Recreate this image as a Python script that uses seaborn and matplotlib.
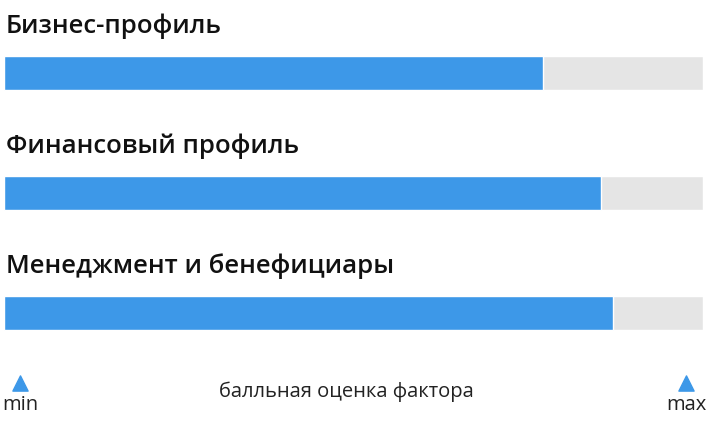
import pandas as pd
import seaborn as sns
import matplotlib.pyplot as plt

# Factor scores (share of max)
factors = ['Бизнес-профиль', 'Финансовый профиль', 'Менеджмент и бенефициары']
scores = [0.771, 0.854, 0.871]
max_score = [1.0, 1.0, 1.0]

df = pd.DataFrame({'factor': factors, 'score': scores, 'max': max_score})

sns.set_theme(style="white")
plt.rcParams['font.family'] = ['Open Sans', 'DejaVu Sans']

fig = plt.figure(figsize=(7.06, 4.24), dpi=100)
ax = fig.add_axes([4 / 706, 0, 699 / 706, 1])

# gray background track, then the blue score bar on top
sns.barplot(x='max', y='factor', data=df, color='#e5e5e5', width=0.29,
            orient='h', ax=ax, saturation=1)
sns.barplot(x='score', y='factor', data=df, color='#3d98e8', width=0.29,
            orient='h', ax=ax, saturation=1)

ax.set_xlim(0, 1)
ax.set_ylim(2.925, -0.608)
ax.axis('off')

# titles above each bar
for i, name in enumerate(factors):
    ax.text(0.003, i - 0.39, name, fontsize=18.5, fontweight='semibold',
            color='#111111', va='center', ha='left')

# min / max scale markers
ax.scatter([0.023, 0.976], [2.583, 2.583], marker='^', s=120,
           color='#3d98e8', clip_on=False, zorder=3)
fig.text(20 / 706, 1 - 405 / 424, 'min', fontsize=14.5, ha='center', va='center', color='#222222')
fig.text(686 / 706, 1 - 405 / 424, 'max', fontsize=14.5, ha='center', va='center', color='#222222')
fig.text(346 / 706, 1 - 392 / 424, 'балльная оценка фактора', fontsize=14.5,
         ha='center', va='center', color='#222222')

plt.savefig('out.png', dpi=100)
